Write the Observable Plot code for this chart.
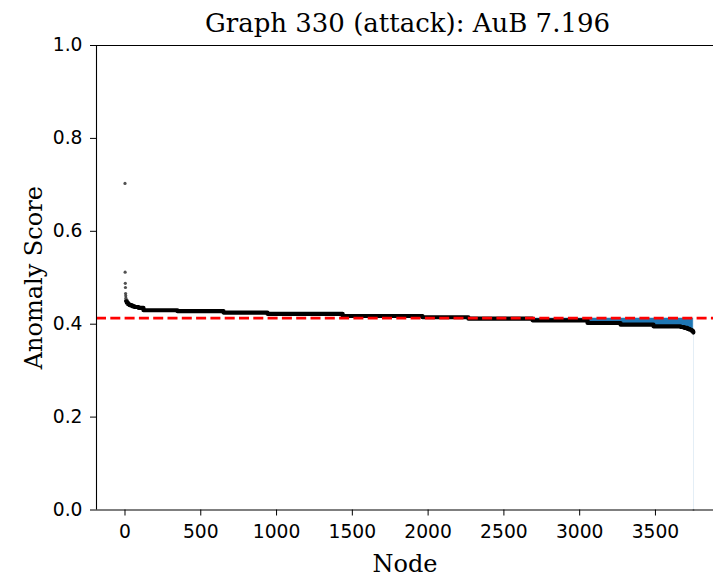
<!DOCTYPE html>
<html>
<head>
<meta charset="utf-8">
<script src="https://cdn.jsdelivr.net/npm/d3@7"></script>
<script src="https://cdn.jsdelivr.net/npm/@observablehq/plot@0.6"></script>
<style>
  html, body { margin: 0; padding: 0; background: #fff; }
  #title { width: 713px; height: 30px; box-sizing: border-box; padding-left: 102px; padding-top: 3px;
           line-height: 40px; text-align: center; font-family: "DejaVu Serif", serif; font-size: 26px; color: #000; white-space: nowrap; position: relative; z-index: 1; }
  #chart { position: relative; }
  g[aria-label="x-axis label"] text, g[aria-label="y-axis label"] text { font-family: "DejaVu Serif", serif; font-size: 24px; }
</style>
</head>
<body>
<div id="title">Graph 330 (attack): AuB 7.196</div>
<div id="chart"></div>
<script>
// ---- data ----
const titleText = "Graph 330 (attack): AuB 7.196";
const outlierNodes  = [0, 1, 2, 3, 4, 5, 6];
const outlierScores = [0.703, 0.512, 0.488, 0.479, 0.466, 0.461, 0.456];
const curveNodes  = [7, 12, 20, 30, 45, 60, 90, 122, 346, 650, 940, 1436, 1963, 2266, 2689, 3052, 3270, 3487, 3665, 3690, 3710, 3725, 3738, 3746, 3750];
const curveScores = [0.450, 0.446, 0.443, 0.441, 0.439, 0.437, 0.435, 0.430, 0.428, 0.425, 0.4224, 0.4177, 0.415, 0.412, 0.4084, 0.4026, 0.399, 0.3955, 0.394, 0.392, 0.390, 0.388, 0.386, 0.384, 0.382];
const lastNode = [3751];
const lastScore = [0.0];
const threshold = [0.413];
const xTicks = [0, 500, 1000, 1500, 2000, 2500, 3000, 3500];
const yTicks = [0.0, 0.2, 0.4, 0.6, 0.8, 1.0];
const xDomain = [-188, 3883];
const yDomain = [0, 1];

const curve = curveNodes.map((n, i) => ({node: n, score: curveScores[i]}));
const outliers = outlierNodes.map((n, i) => ({node: n, score: outlierScores[i]}));
const last = lastNode.map((n, i) => ({node: n, score: lastScore[i]}));
const thr = threshold[0];

const plot = Plot.plot({
  width: 713,
  height: 549,
  marginTop: 15,
  marginBottom: 69.5,
  marginLeft: 96,
  marginRight: 0,
  style: {fontFamily: "DejaVu Sans", fontSize: "18.7px", color: "#000", background: "transparent", overflow: "visible"},
  x: {domain: xDomain},
  y: {domain: yDomain},
  marks: [
    Plot.areaY(curve, {x: "node", y1: () => thr, y2: d => Math.min(d.score, thr), curve: "step-after", fill: "#1f77b4"}),
    Plot.ruleX(last, {x: "node", y1: "score", y2: () => thr, stroke: "#1f77b4", strokeOpacity: 0.12, strokeWidth: 1}),
    Plot.line(curve, {x: "node", y: "score", curve: "step-after", stroke: "#000", strokeWidth: 4.2, strokeLinejoin: "round", strokeLinecap: "round"}),
    Plot.dot(outliers, {x: "node", y: "score", r: 1.6, fill: "#333", fillOpacity: 0.85, stroke: "none"}),
    Plot.dot(last, {x: "node", y: "score", r: 1, fill: "#666", fillOpacity: 0.6, stroke: "none"}),
    Plot.ruleY(threshold, {stroke: "#ff0000", strokeWidth: 2.7, strokeDasharray: "10,4.3"}),
    Plot.ruleY([yDomain[1]], {stroke: "#000", strokeWidth: 1.1}),
    Plot.ruleY([yDomain[0]], {stroke: "#000", strokeWidth: 1.1}),
    Plot.ruleX([xDomain[0]], {stroke: "#000", strokeWidth: 1.1}),
    Plot.axisX({ticks: xTicks, tickSize: 6, tickPadding: 9, tickFormat: d => String(d), label: "Node", labelAnchor: "center", labelOffset: 62, labelArrow: "none"}),
    Plot.axisY({ticks: yTicks, tickSize: 6, tickPadding: 8, tickFormat: d3.format(".1f"), label: "Anomaly Score", labelAnchor: "center", labelOffset: 72, labelArrow: "none"})
  ]
});
document.getElementById("chart").appendChild(plot);
</script>
</body>
</html>
